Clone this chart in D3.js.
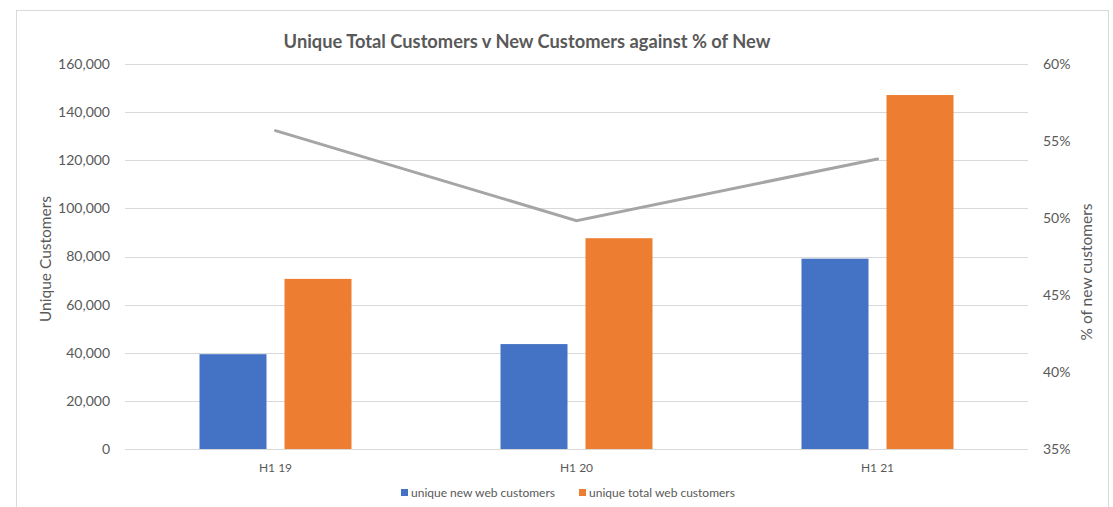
<!DOCTYPE html>
<html><head><meta charset="utf-8">
<script src="https://cdn.jsdelivr.net/npm/d3@7"></script>
<style>body{margin:0;background:#fff;} text{font-family:Lato,"Open Sans",sans-serif;}</style>
</head><body>
<svg id="c" width="1113" height="507"></svg>
<script>
const categories = ["H1 19", "H1 20", "H1 21"];
const newCustomers = [39400, 43600, 79100];
const totalCustomers = [70700, 87600, 147100];
const pctNew = [0.5567, 0.4983, 0.5383];
const leftTicks = [0, 20000, 40000, 60000, 80000, 100000, 120000, 140000, 160000];
const rightTicks = [0.35, 0.40, 0.45, 0.50, 0.55, 0.60];
const seriesNames = ["unique new web customers", "unique total web customers"];
const colors = ["#4472C4", "#ED7D31"];

const svg = d3.select("#c");
const L = 125, R = 1028, T = 64, B = 449;

svg.append("rect").attr("x",16.5).attr("y",10.5).attr("width",1092).attr("height",510)
  .attr("fill","#fff").attr("stroke","#d9d9d9");

const x = d3.scaleBand().domain(categories).range([L, R]).paddingInner(0).paddingOuter(0);
const y = d3.scaleLinear().domain([0, 160000]).range([B, T]);
const y2 = d3.scaleLinear().domain([0.35, 0.60]).range([B, T]);

// gridlines
svg.append("g").selectAll("line").data(leftTicks).join("line")
  .attr("x1", L).attr("x2", R).attr("y1", d => Math.round(y(d))+0.5).attr("y2", d => Math.round(y(d))+0.5)
  .attr("stroke", "#d9d9d9").attr("stroke-width", 1);

// left axis
const ax = d3.axisLeft(y).tickValues(leftTicks).tickSize(0).tickPadding(15).tickFormat(d3.format(","));
const gL = svg.append("g").attr("transform", `translate(${L},0)`).call(ax);
gL.select(".domain").remove();
gL.selectAll("text").attr("fill","#595959").attr("font-size","14px");

// right axis
const ax2 = d3.axisRight(y2).tickValues(rightTicks).tickSize(0).tickPadding(15).tickFormat(d3.format(".0%"));
const gR = svg.append("g").attr("transform", `translate(${R},0)`).call(ax2);
gR.select(".domain").remove();
gR.selectAll("text").attr("fill","#595959").attr("font-size","14px");

// bars
const bw = 67, gap = 18, groupW = 2*bw + gap;
const series = [newCustomers, totalCustomers];
series.forEach((vals, si) => {
  svg.append("g").selectAll("rect").data(categories).join("rect")
    .attr("x", (c) => x(c) + (x.bandwidth()-groupW)/2 + si*(bw+gap))
    .attr("y", (c,i) => y(vals[i]))
    .attr("width", bw)
    .attr("height", (c,i) => B - y(vals[i]))
    .attr("fill", colors[si]);
});

// line
const line = d3.line().x((d,i) => x(categories[i]) + x.bandwidth()/2).y(d => y2(d));
svg.append("path").datum(pctNew).attr("d", line).attr("fill","none")
  .attr("stroke","#A5A5A5").attr("stroke-width",3).attr("stroke-linecap","round");

// x labels
svg.append("g").selectAll("text").data(categories).join("text")
  .attr("x", c => x(c) + x.bandwidth()/2).attr("y", 472)
  .attr("text-anchor","middle").attr("font-size","12px").attr("fill","#595959").text(c => c);

// title
svg.append("text").attr("x", 527).attr("y", 48).attr("text-anchor","middle")
  .attr("font-size","18.3px").attr("font-weight","bold").attr("fill","#595959")
  .text("Unique Total Customers v New Customers against % of New");

// axis titles
svg.append("text").attr("transform","translate(51,259) rotate(-90)").attr("text-anchor","middle")
  .attr("font-size","15.5px").attr("fill","#595959").text("Unique Customers");
svg.append("text").attr("transform","translate(1092,272) rotate(-90)").attr("text-anchor","middle")
  .attr("font-size","15.5px").attr("fill","#595959").text("% of new customers");

// legend
const legX = [401, 579];
seriesNames.forEach((n, i) => {
  svg.append("rect").attr("x", legX[i]).attr("y", 489).attr("width", 7).attr("height", 7).attr("fill", colors[i]);
  svg.append("text").attr("x", legX[i] + 10).attr("y", 497).attr("font-size","12px").attr("fill","#595959").text(n);
});
</script>
</body></html>
